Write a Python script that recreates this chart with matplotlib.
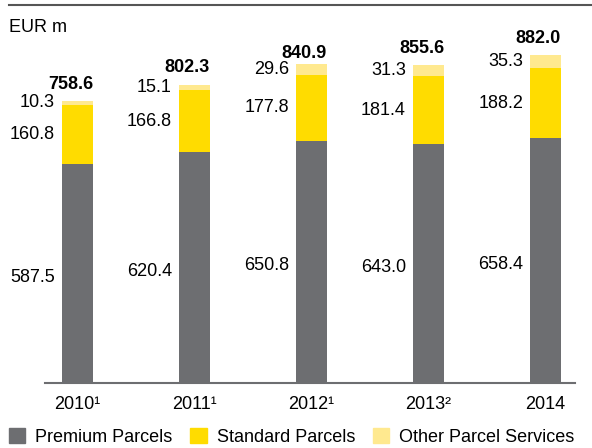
import matplotlib.pyplot as plt
from matplotlib.patches import Patch

years = ["2010¹", "2011¹", "2012¹", "2013²", "2014"]
premium = [587.5, 620.4, 650.8, 643.0, 658.4]
standard = [160.8, 166.8, 177.8, 181.4, 188.2]
other = [10.3, 15.1, 29.6, 31.3, 35.3]
totals = [758.6, 802.3, 840.9, 855.6, 882.0]

c_prem, c_std, c_oth = "#6d6e71", "#ffdc00", "#ffe98f"

plt.rcParams["font.family"] = ["Liberation Sans", "DejaVu Sans"]
W, H = 592, 448
fig = plt.figure(figsize=(W / 100, H / 100), dpi=100)

# axes in pixel geometry: baseline at y=383, left 45, right 575
top_px, bot_px = 20, 383
ax = fig.add_axes([45 / W, 1 - bot_px / H, 530 / W, (bot_px - top_px) / H])
scale = 0.372  # px per EUR m
ax.set_ylim(0, (bot_px - top_px) / scale)
ax.set_xlim((45 - 77.5) / 117, (575 - 77.5) / 117)

x = list(range(len(years)))
w = 31 / 117
base2 = [p + s for p, s in zip(premium, standard)]
ax.bar(x, premium, w, color=c_prem)
ax.bar(x, standard, w, bottom=premium, color=c_std)
ax.bar(x, other, w, bottom=base2, color=c_oth)

fs = 13
off = 7 / 117
for i in x:
    lx = i - w / 2 - off
    ax.text(lx, premium[i] / 2 - 10, f"{premium[i]:.1f}", ha="right", va="center", fontsize=fs)
    ax.text(lx, premium[i] + standard[i] / 2, f"{standard[i]:.1f}", ha="right", va="center", fontsize=fs)
    ax.text(lx, base2[i] + other[i] / 2, f"{other[i]:.1f}", ha="right", va="center", fontsize=fs)
    ax.text(i + w / 2, totals[i] + 22, f"{totals[i]:.1f}", ha="right", va="bottom",
            fontsize=fs, fontweight="bold")

ax.set_xticks(x)
ax.set_xticklabels(years, fontsize=fs)
ax.tick_params(axis="x", length=0, pad=9)
ax.set_yticks([])
for s in ["top", "right", "left"]:
    ax.spines[s].set_visible(False)
ax.spines["bottom"].set_color("#6d6e71")
ax.spines["bottom"].set_linewidth(1.5)

# top rule and unit label
fig.add_artist(plt.Line2D([9 / W, 1], [1 - 5.5 / H] * 2, color="#555555", lw=1.5))
fig.text(9 / W, 1 - 27 / H, "EUR m", fontsize=fs, va="center", ha="left")

handles = [Patch(color=c_prem), Patch(color=c_std), Patch(color=c_oth)]
fig.legend(handles, ["Premium Parcels", "Standard Parcels", "Other Parcel Services"],
           loc="center left", bbox_to_anchor=(9 / W, 1 - 437 / H), ncol=3, frameon=False,
           fontsize=fs, handlelength=0.9, handleheight=0.9, handletextpad=0.55,
           columnspacing=1.0, borderaxespad=0, borderpad=0)

fig.savefig("out.png", dpi=100)
